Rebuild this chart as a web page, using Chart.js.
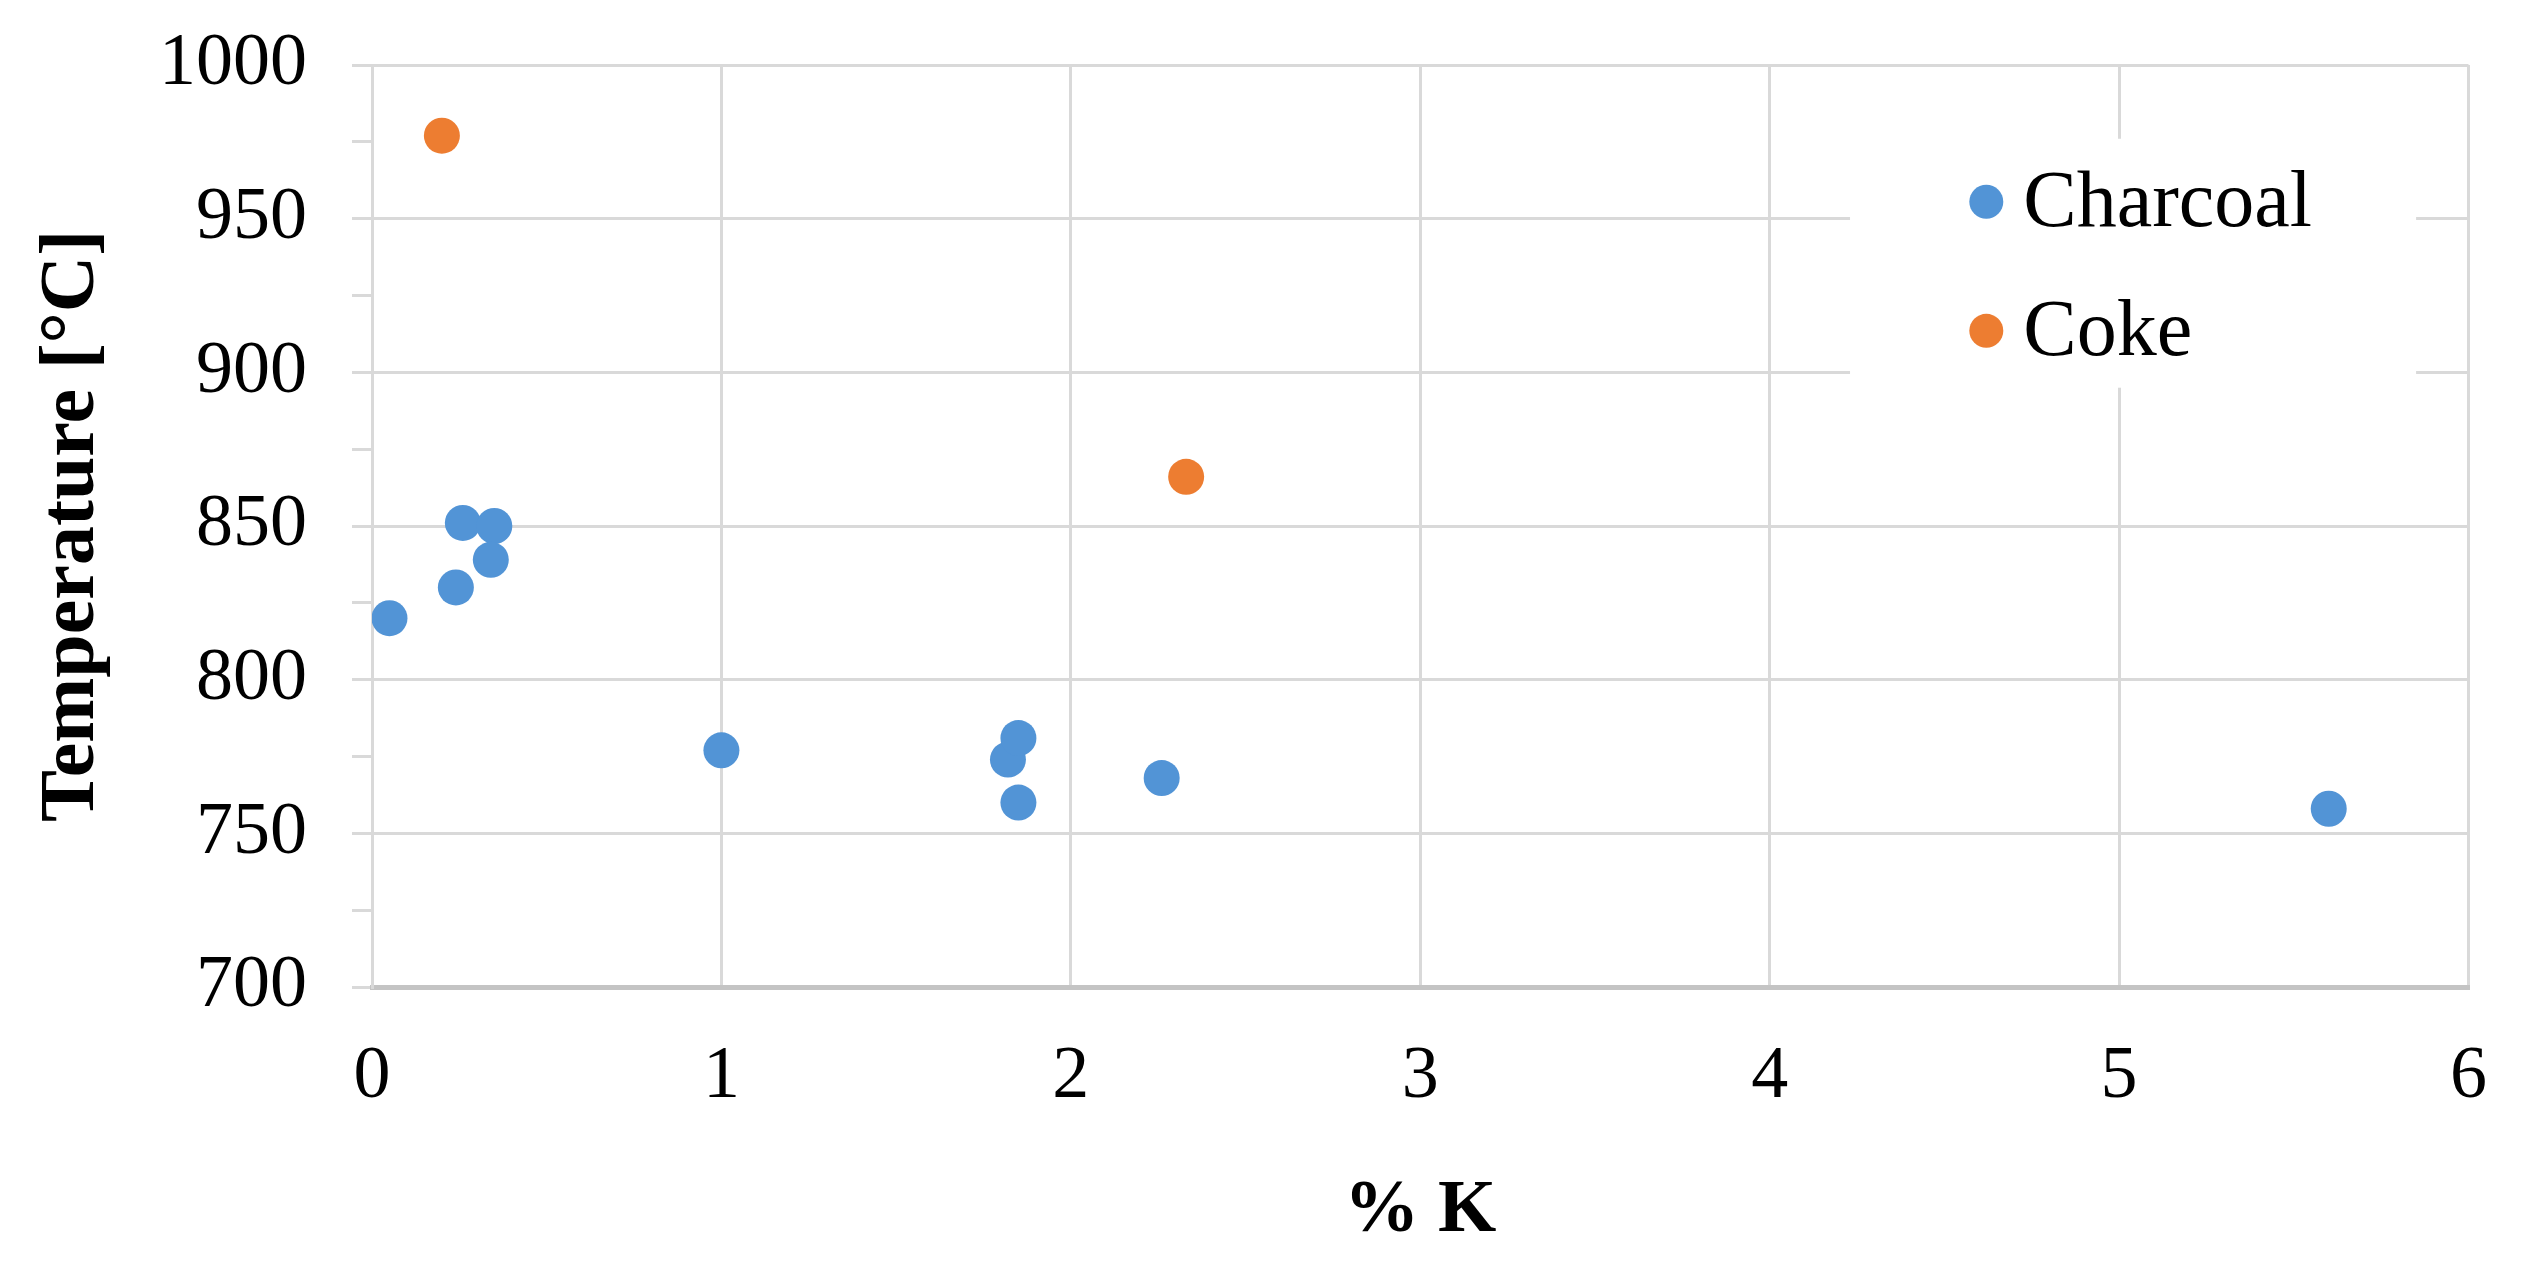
<!DOCTYPE html>
<html>
<head>
<meta charset="utf-8">
<script src="https://cdn.jsdelivr.net/npm/chart.js@4"></script>
<style>
  body { margin: 0; background: #fff; }
  #grafico { display: block; }
</style>
</head>
<body>
<canvas id="grafico" width="2533" height="1268"></canvas>
<script>
// dados
const charcoalK = [0.05, 0.24, 0.26, 0.35, 0.34, 1.0, 1.82, 1.85, 1.85, 2.26, 5.6];
const charcoalT = [820, 830, 851, 850, 839, 777, 774, 781, 760, 768, 758];
const cokeK = [0.2, 2.33];
const cokeT = [977, 866];

const seriesNames = ['Charcoal', 'Coke'];
const seriesColors = ['#5294d6', '#ed7d31'];

const xTitle = '% K';
const yTitle = 'Temperature [°C]';

const FONTE = '"Liberation Serif", "Times New Roman", serif';

function toPoints(xs, ys) {
    return xs.map((x, i) => ({ x: x, y: ys[i] }));
}

// legenda desenhada dentro da área do gráfico, com fundo branco
const legendaInterna = {
    id: 'legendaInterna',
    afterDraw(chart) {
        const ctx = chart.ctx;
        const xs = chart.scales.x;
        const ys = chart.scales.y;
        const boxL = xs.getPixelForValue(4.23), boxR = xs.getPixelForValue(5.85);
        const boxT = ys.getPixelForValue(976), boxB = ys.getPixelForValue(895);
        ctx.save();
        ctx.fillStyle = '#fff';
        ctx.fillRect(boxL, boxT, boxR - boxL, boxB - boxT);
        ctx.font = '80px ' + FONTE;
        ctx.textBaseline = 'middle';
        chart.data.datasets.forEach((ds, i) => {
            const cy = ys.getPixelForValue(955.5 - i * 42);
            const cx = xs.getPixelForValue(4.62);
            ctx.beginPath();
            ctx.fillStyle = ds.backgroundColor;
            ctx.arc(cx, cy, 17, 0, Math.PI * 2);
            ctx.fill();
            ctx.fillStyle = '#000';
            ctx.fillText(ds.label, cx + 37, cy + 3);
        });
        ctx.restore();
    }
};

const ctx = document.getElementById('grafico').getContext('2d');

new Chart(ctx, {
    type: 'scatter',
    data: {
        datasets: [
            {
                label: seriesNames[0],
                data: toPoints(charcoalK, charcoalT),
                backgroundColor: seriesColors[0],
                borderWidth: 0,
                pointRadius: 18
            },
            {
                label: seriesNames[1],
                data: toPoints(cokeK, cokeT),
                backgroundColor: seriesColors[1],
                borderWidth: 0,
                pointRadius: 18
            }
        ]
    },
    options: {
        responsive: false,
        animation: false,
        layout: { padding: { left: 20, right: 63, top: 65, bottom: 0 } },
        plugins: {
            legend: { display: false },
            tooltip: { enabled: false }
        },
        scales: {
            x: {
                type: 'linear',
                min: 0,
                max: 6,
                ticks: {
                    stepSize: 1,
                    padding: 46,
                    color: '#000',
                    font: { family: FONTE, size: 74 }
                },
                grid: { color: '#d9d9d9', lineWidth: 3, drawTicks: false },
                border: { color: '#c4c4c4', width: 5 },
                title: {
                    display: true,
                    text: xTitle,
                    color: '#000',
                    font: { family: FONTE, size: 75, weight: 'bold' },
                    padding: { top: 0, bottom: 11 }
                },
                afterFit: (scale) => { scale.height = 1268 - 987; }
            },
            y: {
                type: 'linear',
                min: 700,
                max: 1000,
                ticks: {
                    stepSize: 25,
                    padding: 45,
                    color: '#000',
                    // lineHeight baixo só para o rótulo 1000 não empurrar a área do gráfico
                    font: { family: FONTE, size: 74, lineHeight: 0.5 },
                    callback: (v) => (v % 50 === 0 ? v : '')
                },
                grid: {
                    color: (c) => (c.tick && c.tick.value % 50 === 0 ? '#d9d9d9' : 'rgba(0,0,0,0)'),
                    tickColor: '#d9d9d9',
                    lineWidth: 3,
                    tickLength: 20
                },
                border: { color: '#d9d9d9', width: 3 },
                title: {
                    display: true,
                    text: yTitle,
                    color: '#000',
                    font: { family: FONTE, size: 78, weight: 'bold' },
                    padding: { top: 6, bottom: 0 }
                },
                afterFit: (scale) => { scale.width = 372 - 20; }
            }
        }
    },
    plugins: [legendaInterna]
});
</script>
</body>
</html>
